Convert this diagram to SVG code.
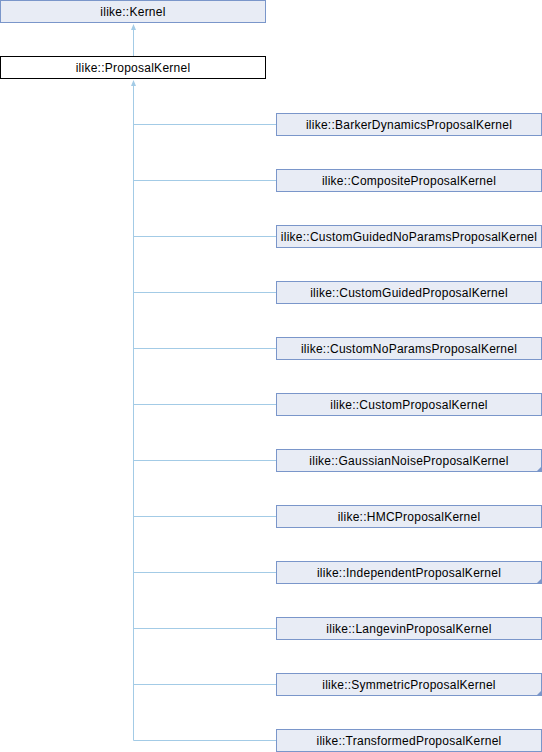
<svg xmlns="http://www.w3.org/2000/svg" width="542" height="752" viewBox="0 0 542 752">
<style>
.bg{fill:#ffffff}
.n rect{fill:#E8ECF5;stroke:#7A96CA;stroke-width:1}
.n.cur rect{fill:#ffffff;stroke:#000000}
.n text{font-family:"Liberation Sans",Arial,sans-serif;font-size:12px;fill:#000;text-anchor:middle;letter-spacing:0.25px}
.n path.c{fill:#7A96CA;stroke:none}
.e{stroke:#A3CBE6;stroke-width:1;fill:none}
.ah{fill:#A3CBE6;stroke:none}
</style>
<rect class="bg" width="542" height="752"/>
<g id="connectors">
<line class="e" x1="133.5" y1="29" x2="133.5" y2="57"/>
<polygon class="ah" points="133.5,24 131,30 136,30"/>
<line class="e" x1="133.5" y1="85" x2="133.5" y2="740.5"/>
<polygon class="ah" points="133.5,80 131,86 136,86"/>
<line class="e" x1="133.5" y1="124.5" x2="276" y2="124.5"/>
<line class="e" x1="133.5" y1="180.5" x2="276" y2="180.5"/>
<line class="e" x1="133.5" y1="236.5" x2="276" y2="236.5"/>
<line class="e" x1="133.5" y1="292.5" x2="276" y2="292.5"/>
<line class="e" x1="133.5" y1="348.5" x2="276" y2="348.5"/>
<line class="e" x1="133.5" y1="404.5" x2="276" y2="404.5"/>
<line class="e" x1="133.5" y1="460.5" x2="276" y2="460.5"/>
<line class="e" x1="133.5" y1="516.5" x2="276" y2="516.5"/>
<line class="e" x1="133.5" y1="572.5" x2="276" y2="572.5"/>
<line class="e" x1="133.5" y1="628.5" x2="276" y2="628.5"/>
<line class="e" x1="133.5" y1="684.5" x2="276" y2="684.5"/>
<line class="e" x1="133.5" y1="740.5" x2="276" y2="740.5"/>
</g>
<g id="Kernel" class="n"><rect x="0.5" y="0.5" width="265" height="22"/><text x="133" y="16">ilike::Kernel</text></g>
<g id="ProposalKernel" class="n cur"><rect x="0.5" y="56.5" width="265" height="22"/><text x="133" y="72">ilike::ProposalKernel</text></g>
<g id="BarkerDynamicsProposalKernel" class="n"><rect x="276.5" y="113.5" width="265" height="22"/><text x="409" y="129">ilike::BarkerDynamicsProposalKernel</text></g>
<g id="CompositeProposalKernel" class="n"><rect x="276.5" y="169.5" width="265" height="22"/><text x="409" y="185">ilike::CompositeProposalKernel</text></g>
<g id="CustomGuidedNoParamsProposalKernel" class="n"><rect x="276.5" y="225.5" width="265" height="22"/><text x="409" y="241">ilike::CustomGuidedNoParamsProposalKernel</text></g>
<g id="CustomGuidedProposalKernel" class="n"><rect x="276.5" y="281.5" width="265" height="22"/><text x="409" y="297">ilike::CustomGuidedProposalKernel</text></g>
<g id="CustomNoParamsProposalKernel" class="n"><rect x="276.5" y="337.5" width="265" height="22"/><text x="409" y="353">ilike::CustomNoParamsProposalKernel</text></g>
<g id="CustomProposalKernel" class="n"><rect x="276.5" y="393.5" width="265" height="22"/><text x="409" y="409">ilike::CustomProposalKernel</text></g>
<g id="GaussianNoiseProposalKernel" class="n"><rect x="276.5" y="449.5" width="265" height="22"/><path class="c" d="M541.5,466.5 L541.5,471.5 L536.5,471.5 Z"/><text x="409" y="465">ilike::GaussianNoiseProposalKernel</text></g>
<g id="HMCProposalKernel" class="n"><rect x="276.5" y="505.5" width="265" height="22"/><text x="409" y="521">ilike::HMCProposalKernel</text></g>
<g id="IndependentProposalKernel" class="n"><rect x="276.5" y="561.5" width="265" height="22"/><path class="c" d="M541.5,578.5 L541.5,583.5 L536.5,583.5 Z"/><text x="409" y="577">ilike::IndependentProposalKernel</text></g>
<g id="LangevinProposalKernel" class="n"><rect x="276.5" y="617.5" width="265" height="22"/><text x="409" y="633">ilike::LangevinProposalKernel</text></g>
<g id="SymmetricProposalKernel" class="n"><rect x="276.5" y="673.5" width="265" height="22"/><path class="c" d="M541.5,690.5 L541.5,695.5 L536.5,695.5 Z"/><text x="409" y="689">ilike::SymmetricProposalKernel</text></g>
<g id="TransformedProposalKernel" class="n"><rect x="276.5" y="729.5" width="265" height="22"/><text x="409" y="745">ilike::TransformedProposalKernel</text></g>
</svg>
